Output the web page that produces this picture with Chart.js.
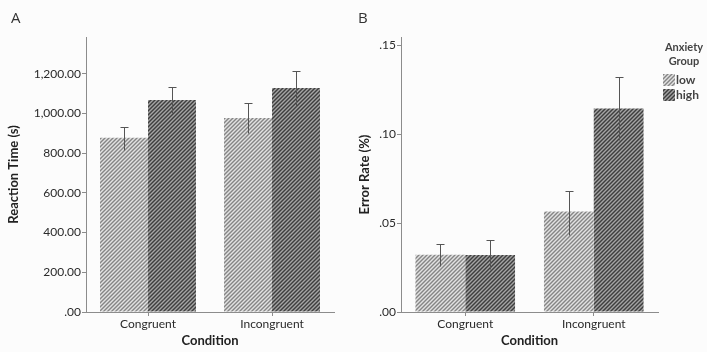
<!DOCTYPE html>
<html>
<head>
<meta charset="utf-8">
<script src="https://cdn.jsdelivr.net/npm/chart.js@4.4.1/dist/chart.umd.min.js"></script>
<style>
  html, body { margin: 0; padding: 0; background: #fcfcfc; }
  #wrap { position: relative; width: 707px; height: 352px; overflow: hidden; font-family: Lato, "Open Sans", sans-serif; }
  .panel { position: absolute; top: 0; height: 352px; }
  .letter { position: absolute; font-size: 15px; color: #333; font-family: "Open Sans", sans-serif; }
</style>
</head>
<body>
<div id="wrap">
  <div class="panel" style="left:0;width:355px"><canvas id="rt" width="355" height="352"></canvas></div>
  <div class="panel" style="left:355px;width:352px"><canvas id="er" width="352" height="352"></canvas></div>
  <div class="letter" style="left:11px;top:7px">A</div>
  <div class="letter" style="left:358px;top:7px">B</div>
</div>
<script>
// Conditions and anxiety groups
const conditions = ['Congruent', 'Incongruent'];
const groups = ['low', 'high'];

// Panel A: reaction time (s), means and error bar limits
const rtLow = [877, 977];
const rtHigh = [1068, 1128];
const rtLowUpper = [932, 1053];
const rtLowLower = [816, 902];
const rtHighUpper = [1131, 1214];
const rtHighLower = [1003, 1038];
const rtTicks = [0, 200, 400, 600, 800, 1000, 1200];

// Panel B: error rate (%), means and error bar limits
const erLow = [0.0321, 0.0564];
const erHigh = [0.0320, 0.1144];
const erLowUpper = [0.0383, 0.0682];
const erLowLower = [0.0260, 0.0434];
const erHighUpper = [0.0406, 0.1320];
const erHighLower = [0.0240, 0.0964];
const erTicks = [0, 0.05, 0.10, 0.15];

// Diagonal hatch fill ("/" stripes)
function hatch(light, mid, dark) {
  const c = document.createElement('canvas');
  c.width = 4; c.height = 4;
  const g = c.getContext('2d');
  const shades = [light, mid, dark, mid];
  for (let y = 0; y < 4; y++) {
    for (let x = 0; x < 4; x++) {
      g.fillStyle = shades[(x + y) % 4];
      g.fillRect(x, y, 1, 1);
    }
  }
  return g.createPattern(c, 'repeat');
}
const lowFill = hatch('#e2e2e2', '#b4b4b4', '#858585');
const highFill = hatch('#a4a4a4', '#707070', '#3e3e3e');

const FONT = 'Lato, "Open Sans", sans-serif';
const TEXT = '#2a2a2a';
const AXIS = '#8c8c8c';

// Error bars drawn over each bar from its upper/lower limits
const errorBars = {
  id: 'errorBars',
  afterDatasetsDraw(chart, args, opts) {
    const ctx = chart.ctx;
    const y = chart.scales.y;
    ctx.save();
    ctx.strokeStyle = '#555555';
    ctx.lineWidth = 1;
    opts.limits.forEach((lim, di) => {
      chart.getDatasetMeta(di).data.forEach((bar, i) => {
        const x = Math.round(bar.x) + 0.5;
        const yu = Math.round(y.getPixelForValue(lim.upper[i])) + 0.5;
        const yl = Math.round(y.getPixelForValue(lim.lower[i])) + 0.5;
        ctx.beginPath();
        ctx.moveTo(x, yu); ctx.lineTo(x, yl);
        ctx.moveTo(x - 4, yu); ctx.lineTo(x + 4, yu);
        ctx.stroke();
      });
    });
    ctx.restore();
  }
};

// Group legend placed to the right of the plot area
const sideLegend = {
  id: 'sideLegend',
  afterDraw(chart, args, opts) {
    if (!opts.show) return;
    const ctx = chart.ctx;
    const cx = chart.chartArea.right + 26;
    ctx.save();
    ctx.fillStyle = '#444';
    ctx.textAlign = 'center';
    ctx.textBaseline = 'middle';
    ctx.font = 'bold 11px ' + FONT;
    ctx.fillText('Anxiety', cx, 47);
    ctx.fillText('Group', cx, 61);
    ctx.textAlign = 'left';
    ctx.font = 'bold 12px ' + FONT;
    chart.data.datasets.forEach((ds, i) => {
      const yy = 80 + i * 15;
      ctx.fillStyle = ds.backgroundColor;
      ctx.fillRect(cx - 21, yy - 6, 12, 12);
      ctx.fillStyle = '#444';
      ctx.fillText(ds.label, cx - 8, yy);
    });
    ctx.restore();
  }
};

function makeChart(id, cfg) {
  return new Chart(document.getElementById(id), {
    type: 'bar',
    data: {
      labels: conditions,
      datasets: [
        { label: groups[0], data: cfg.low, backgroundColor: lowFill, borderWidth: 0 },
        { label: groups[1], data: cfg.high, backgroundColor: highFill, borderWidth: 0 }
      ]
    },
    options: {
      responsive: false,
      animation: false,
      events: [],
      layout: { padding: { left: 0, right: cfg.rightPad, top: 37, bottom: 0 } },
      datasets: { bar: { categoryPercentage: cfg.catPct, barPercentage: 1 } },
      plugins: {
        legend: { display: false },
        tooltip: { enabled: false },
        errorBars: { limits: cfg.limits },
        sideLegend: { show: cfg.legend }
      },
      scales: {
        x: {
          offset: true,
          grid: { offset: false, drawOnChartArea: false, color: AXIS, tickLength: 4 },
          border: { color: AXIS },
          ticks: { color: TEXT, font: { family: FONT, size: 12 }, padding: 1 },
          title: { display: true, text: 'Condition', color: '#222', font: { family: FONT, size: 13, weight: 'bold' }, padding: { top: 0, bottom: 3 } },
          afterFit(s) { s.height = 40; }
        },
        y: {
          min: 0,
          max: cfg.max,
          grid: { drawOnChartArea: false, color: AXIS, tickLength: 4 },
          border: { color: AXIS },
          ticks: {
            stepSize: cfg.step,
            color: TEXT,
            font: { family: FONT, size: 12 },
            padding: 1,
            callback: cfg.fmt
          },
          afterBuildTicks(s) { s.ticks = cfg.ticks.map(v => ({ value: v })); },
          title: { display: true, text: cfg.title, color: '#222', font: { family: FONT, size: 13, weight: 'bold' }, padding: { top: cfg.titlePad, bottom: 0 } },
          afterFit(s) { s.width = cfg.yWidth; }
        }
      }
    },
    plugins: [errorBars, sideLegend]
  });
}

makeChart('rt', {
  low: rtLow, high: rtHigh,
  limits: [{ upper: rtLowUpper, lower: rtLowLower }, { upper: rtHighUpper, lower: rtHighLower }],
  max: 1385, step: 200, ticks: rtTicks,
  fmt: v => v === 0 ? '.00' : v.toLocaleString('en-US', { minimumFractionDigits: 2, maximumFractionDigits: 2 }),
  title: 'Reaction Time (s)', titlePad: 6, yWidth: 86, rightPad: 21, catPct: 0.774, legend: false
});

makeChart('er', {
  low: erLow, high: erHigh,
  limits: [{ upper: erLowUpper, lower: erLowLower }, { upper: erHighUpper, lower: erHighLower }],
  max: 0.1545, step: 0.05, ticks: erTicks,
  fmt: v => '.' + Math.round(v * 100).toString().padStart(2, '0'),
  title: 'Error Rate (%)', titlePad: 2, yWidth: 46, rightPad: 49, catPct: 0.775, legend: true
});
</script>
</body>
</html>
